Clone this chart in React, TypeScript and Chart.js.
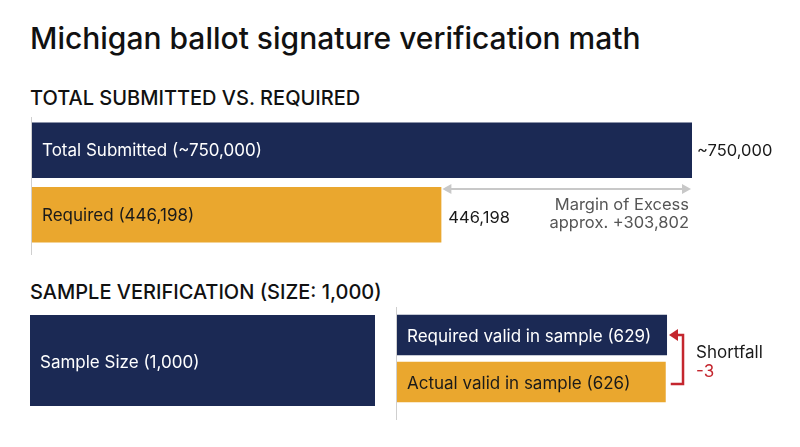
import { useEffect, useRef } from "react";
import { Chart, registerables } from "chart.js";

Chart.register(...registerables);

const titleText = "Michigan ballot signature verification math";
const topSubtitle = "TOTAL SUBMITTED VS. REQUIRED";
const bottomSubtitle = "SAMPLE VERIFICATION (SIZE: 1,000)";

const topCategories = ["Total Submitted (~750,000)", "Required (446,198)"];
const topValues = [750000, 446198];
const topValueLabels = ["~750,000", "446,198"];
const marginLabels = ["Margin of Excess", "approx. +303,802"];

const sampleCategories = ["Sample Size (1,000)"];
const sampleValues = [1000];

const validCategories = ["Required valid in sample (629)", "Actual valid in sample (626)"];
const validValues = [629, 626];
const shortfallLabels = ["Shortfall", "-3"];

const NAVY = "#1b2954";
const ORANGE = "#eaa72e";
const DARK = "#1a1a1a";
const FONT = "Inter, Roboto, 'Noto Sans', sans-serif";

function arrowHead(ctx: CanvasRenderingContext2D, x: number, y: number, dir: number, len: number, half: number) {
  ctx.beginPath();
  ctx.moveTo(x, y);
  ctx.lineTo(x - dir * len, y - half);
  ctx.lineTo(x - dir * len, y + half);
  ctx.closePath();
  ctx.fill();
}

const topPlugin = {
  id: "topLabels",
  afterDatasetsDraw(chart: any) {
    const ctx: CanvasRenderingContext2D = chart.ctx;
    const bars = chart.getDatasetMeta(0).data;
    const area = chart.chartArea;
    ctx.save();
    ctx.strokeStyle = "#cfcfcf";
    ctx.lineWidth = 1;
    ctx.beginPath();
    ctx.moveTo(area.left - 0.5, 7);
    ctx.lineTo(area.left - 0.5, chart.height);
    ctx.stroke();
    ctx.textBaseline = "middle";
    bars.forEach((b: any, i: number) => {
      ctx.font = `17px ${FONT}`;
      ctx.fillStyle = i === 0 ? "#ffffff" : DARK;
      ctx.textAlign = "left";
      ctx.fillText(topCategories[i], b.base + 10, b.y + 1);
      ctx.font = `16.5px ${FONT}`;
      ctx.fillStyle = DARK;
      ctx.fillText(topValueLabels[i], b.x + (i === 0 ? 5 : 7), b.y + (i === 0 ? 1 : 3));
    });
    const b0 = bars[0];
    const b1 = bars[1];
    const ay = b1.y - b1.height / 2 + 2;
    ctx.strokeStyle = "#c8c8c8";
    ctx.fillStyle = "#c8c8c8";
    ctx.lineWidth = 2;
    ctx.beginPath();
    ctx.moveTo(b1.x + 6, ay);
    ctx.lineTo(b0.x - 6, ay);
    ctx.stroke();
    arrowHead(ctx, b1.x + 1, ay, -1, 9, 5);
    arrowHead(ctx, b0.x - 1, ay, 1, 9, 5);
    ctx.fillStyle = "#555555";
    ctx.textAlign = "right";
    ctx.font = `16.5px ${FONT}`;
    ctx.fillText(marginLabels[0], b0.x - 3, ay + 16);
    ctx.fillText(marginLabels[1], b0.x - 3, ay + 34);
    ctx.restore();
  },
};

const samplePlugin = {
  id: "sampleLabels",
  afterDatasetsDraw(chart: any) {
    const ctx: CanvasRenderingContext2D = chart.ctx;
    const bars = chart.getDatasetMeta(0).data;
    ctx.save();
    ctx.font = `17px ${FONT}`;
    ctx.textBaseline = "middle";
    ctx.fillStyle = "#ffffff";
    bars.forEach((b: any, i: number) => {
      ctx.fillText(sampleCategories[i], b.base + 10, b.y + 2);
    });
    ctx.restore();
  },
};

const validPlugin = {
  id: "validLabels",
  afterDatasetsDraw(chart: any) {
    const ctx: CanvasRenderingContext2D = chart.ctx;
    const bars = chart.getDatasetMeta(0).data;
    const area = chart.chartArea;
    ctx.save();
    ctx.strokeStyle = "#cfcfcf";
    ctx.lineWidth = 1;
    ctx.beginPath();
    ctx.moveTo(area.left - 0.5, 7);
    ctx.lineTo(area.left - 0.5, chart.height);
    ctx.stroke();
    ctx.font = `17px ${FONT}`;
    ctx.textBaseline = "middle";
    bars.forEach((b: any, i: number) => {
      ctx.fillStyle = i === 0 ? "#ffffff" : DARK;
      ctx.fillText(validCategories[i], b.base + 10, b.y + 2);
    });
    const b0 = bars[0];
    const b1 = bars[1];
    const red = "#c4262e";
    const bx = b0.x + 16;
    const y0 = b0.y;
    const y1 = b1.y + 2;
    ctx.strokeStyle = red;
    ctx.fillStyle = red;
    ctx.lineWidth = 2.5;
    ctx.beginPath();
    ctx.moveTo(b0.x + 9, y0);
    ctx.lineTo(bx, y0);
    ctx.lineTo(bx, y1);
    ctx.lineTo(b1.x + 5, y1);
    ctx.stroke();
    arrowHead(ctx, b0.x + 2, y0, -1, 9, 6);
    ctx.textAlign = "left";
    ctx.fillStyle = DARK;
    ctx.fillText(shortfallLabels[0], bx + 13, y0 + 18);
    ctx.fillStyle = red;
    ctx.fillText(shortfallLabels[1], bx + 13, y0 + 37);
    ctx.restore();
  },
};

function makeBar(
  canvas: HTMLCanvasElement,
  labels: string[],
  values: number[],
  colors: string[],
  xmin: number,
  xmax: number,
  base: number,
  barPct: number,
  padding: any,
  plugin: any
) {
  return new Chart(canvas, {
    type: "bar",
    data: {
      labels,
      datasets: [
        {
          data: values,
          backgroundColor: colors,
          borderWidth: 0,
          base,
          categoryPercentage: 1,
          barPercentage: barPct,
        } as any,
      ],
    },
    options: {
      indexAxis: "y",
      responsive: false,
      animation: false,
      devicePixelRatio: 1,
      layout: { padding },
      plugins: { legend: { display: false }, tooltip: { enabled: false }, title: { display: false } },
      scales: {
        x: { display: false, min: xmin, max: xmax },
        y: { display: false },
      },
    },
    plugins: [plugin],
  });
}

export default function App() {
  const topRef = useRef<HTMLCanvasElement>(null);
  const sampleRef = useRef<HTMLCanvasElement>(null);
  const validRef = useRef<HTMLCanvasElement>(null);

  useEffect(() => {
    const charts: Chart[] = [];
    if (topRef.current) {
      charts.push(
        makeBar(topRef.current, topCategories, topValues, [NAVY, ORANGE], -50000, 750000, -50000, 0.86,
          { left: 32, right: 108, top: 8, bottom: 8 }, topPlugin)
      );
    }
    if (sampleRef.current) {
      charts.push(
        makeBar(sampleRef.current, sampleCategories, sampleValues, [NAVY], 0, 1000, 0, 1,
          { left: 0, right: 0, top: 0, bottom: 0 }, samplePlugin)
      );
    }
    if (validRef.current) {
      charts.push(
        makeBar(validRef.current, validCategories, validValues, [NAVY, ORANGE], 0, 700, 0, 0.86,
          { left: 17, right: 102.5, top: 11.5, bottom: 14.5 }, validPlugin)
      );
    }
    return () => charts.forEach((c) => c.destroy());
  }, []);

  const textBase: any = { position: "absolute", left: 30, margin: 0, color: "#111", fontFamily: FONT, whiteSpace: "nowrap" };

  return (
    <div style={{ position: "absolute", left: 0, top: 0, width: 800, height: 447, background: "#ffffff", overflow: "hidden" }}>
      <div style={{ ...textBase, top: 23, fontSize: 30, lineHeight: "30px", fontWeight: 500 }}>{titleText}</div>
      <div style={{ ...textBase, top: 88, fontSize: 20, lineHeight: "20px", fontWeight: 500 }}>{topSubtitle}</div>
      <div style={{ ...textBase, top: 282, fontSize: 20, lineHeight: "20px", fontWeight: 500 }}>{bottomSubtitle}</div>
      <canvas ref={topRef} width={800} height={145} style={{ position: "absolute", left: 0, top: 110, width: 800, height: 145 }} />
      <canvas ref={sampleRef} width={345} height={91} style={{ position: "absolute", left: 30, top: 315, width: 345, height: 91 }} />
      <canvas ref={validRef} width={420} height={120} style={{ position: "absolute", left: 380, top: 300, width: 420, height: 120 }} />
    </div>
  );
}
